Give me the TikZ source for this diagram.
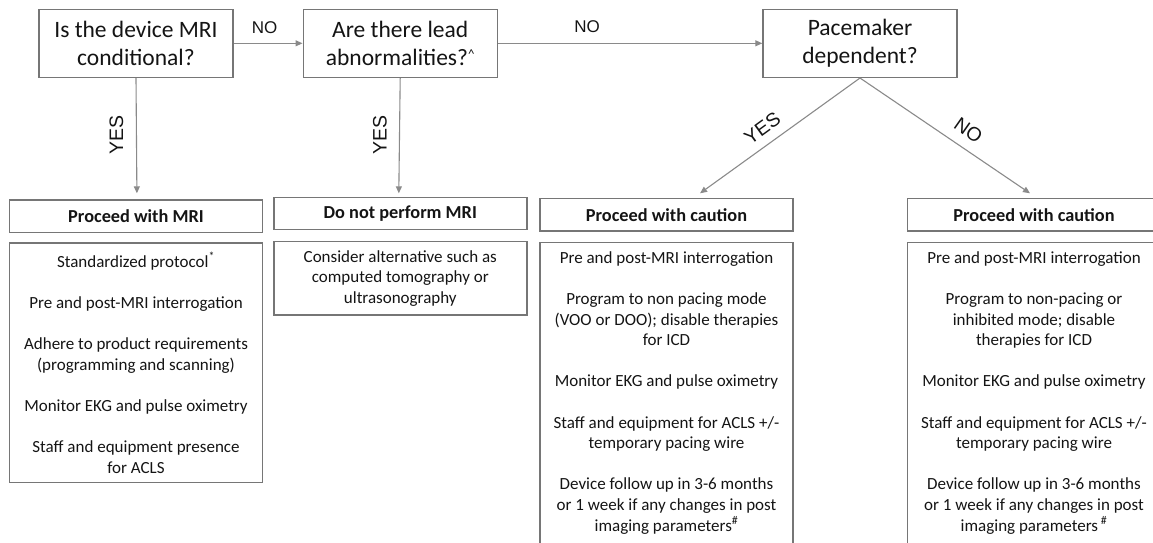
\documentclass[tikz,border=0pt]{standalone}
\usepackage{fontspec}
\setmainfont{Carlito}
\newfontfamily\arialf{Liberation Sans}
\usetikzlibrary{arrows.meta}
\definecolor{lc}{RGB}{138,138,138}
\definecolor{bc}{RGB}{118,118,118}
\definecolor{tc}{RGB}{20,20,20}
\begin{document}
\begin{tikzpicture}[x=1pt,y=-1pt,
  qbox/.style={draw=bc, line width=1.4pt, minimum width=194pt, minimum height=68pt, inner sep=0pt, align=center, text=tc, font=\fontsize{23.5}{28.3}\selectfont},
  hbox/.style={draw=bc, line width=1.4pt, minimum width=253pt, minimum height=32.7pt, inner sep=0pt, text=tc, font=\fontsize{18.3}{22}\selectfont\bfseries},
  cbox/.style={draw=bc, line width=1.4pt, minimum width=253pt, inner sep=0pt, align=center, text=tc, font=\fontsize{17}{20.6}\selectfont},
  ctext/.style={inner sep=0pt, align=center, text=tc, font=\fontsize{17}{20.6}\selectfont},
  conn/.style={draw=lc, line width=1.1pt, -{Triangle[length=7pt,width=6pt]}},
  lab/.style={inner sep=0pt, text=tc, font=\arialf\fontsize{17}{20}\selectfont},
  labb/.style={inner sep=0pt, text=tc, font=\arialf\fontsize{19.5}{22}\selectfont},
  ]
\useasboundingbox (0,0) rectangle (1153,542);
\clip (0,0) rectangle (1153,542);

% question boxes
\node[qbox] (q1) at (136,43.3) {Is the device MRI\\conditional?};
\node[qbox] (q2) at (400.2,43.3) {Are there lead\\abnormalities?\raisebox{7pt}{\fontsize{13}{13}\selectfont\textasciicircum}};
\node[qbox] (q3) at (860,43.3) {Pacemaker\\dependent?};

% header boxes
\node[hbox] (hA) at (136,216.3) {Proceed with MRI};
\node[hbox, minimum height=32pt] (hB) at (400.3,213.3) {Do not perform MRI};
\node[hbox] (hC) at (666.5,214.7) {Proceed with caution};
\node[hbox] (hD) at (1034,214.7) {Proceed with caution};

% content boxes
\node[cbox, minimum height=239.3pt] (cA) at (136,362.7) {Standardized protocol\textsuperscript{*}\\[20.6pt]
Pre and post-MRI interrogation\\[20.6pt]
Adhere to product requirements\\(programming and scanning)\\[20.6pt]
Monitor EKG and pulse oximetry\\[20.6pt]
Staff and equipment presence\\for ACLS};
\node[cbox, minimum height=73.3pt] (cB) at (400.3,278.3) {Consider alternative such as\\computed tomography or\\ultrasonography};
\node[cbox, minimum height=330pt] (cC) at (666.5,407.3) {};
\node[cbox, minimum height=330pt] (cD) at (1034,407.3) {};
\node[ctext] (tC) at (666.5,392.8) {Pre and post-MRI interrogation\\[20.6pt]
Program to non pacing mode\\(VOO or DOO); disable therapies\\for ICD\\[20.6pt]
Monitor EKG and pulse oximetry\\[20.6pt]
Staff and equipment for ACLS +/-\\temporary pacing wire\\[20.6pt]
Device follow up in 3-6 months\\or 1 week if any changes in post\\imaging parameters\textsuperscript{\#}};
\node[ctext] (tD) at (1034,392.8) {Pre and post-MRI interrogation\\[20.6pt]
Program to non-pacing or\\inhibited mode; disable\\therapies for ICD\\[20.6pt]
Monitor EKG and pulse oximetry\\[20.6pt]
Staff and equipment for ACLS +/-\\temporary pacing wire\\[20.6pt]
Device follow up in 3-6 months\\or 1 week if any changes in post\\imaging parameters\,\textsuperscript{\#}};

% connectors
\coordinate (eA) at (136.9,193.3);
\coordinate (eB) at (398.8,193.3);
\coordinate (eC) at (700,193.3);
\coordinate (eD) at (1030,193.3);
\draw[conn] (q1.east) -- (q2.west);
\draw[conn] (q2.east) -- (q3.west);
\draw[conn] (q1.south) -- (eA);
\draw[conn] (q2.south) -- (eB);
\draw[conn] (q3.south) -- (eC);
\draw[conn] (q3.south) -- (eD);

% labels
\node[lab] (no1) at (264.5,27.5) {NO};
\node[lab] (no2) at (587,26.7) {NO};
\node[labb, rotate=90] (yes1) at (116.5,135) {YES};
\node[labb, rotate=90] (yes2) at (380,135) {YES};
\node[labb, rotate=36] (yes3) at (762.3,128.3) {YES};
\node[labb, rotate=-35] (no3) at (968.5,130) {NO};
\end{tikzpicture}
\end{document}
